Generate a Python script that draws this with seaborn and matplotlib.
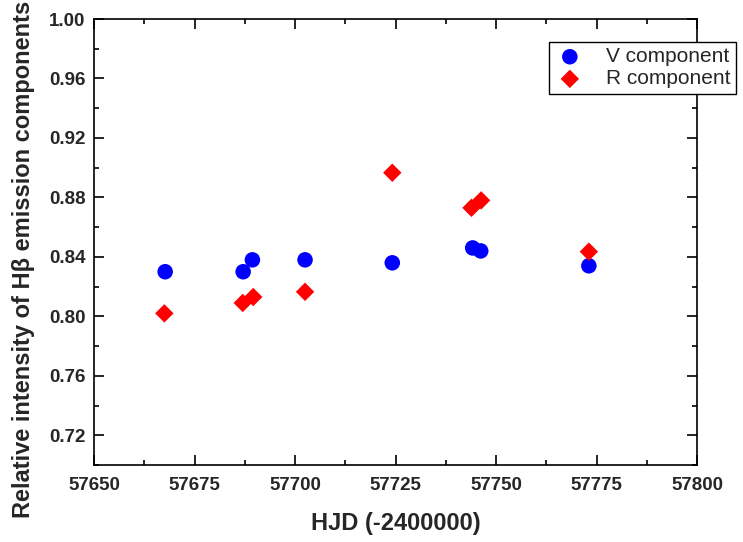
import matplotlib
matplotlib.use("Agg")
import matplotlib.pyplot as plt
from matplotlib.ticker import MultipleLocator
import seaborn as sns
import pandas as pd

# Data
v_hjd = [57667.7, 57687.1, 57689.4, 57702.5, 57724.2, 57744.2, 57746.2, 57773.1]
v_int = [0.830, 0.830, 0.838, 0.838, 0.836, 0.846, 0.844, 0.834]
r_hjd = [57667.5, 57687.0, 57689.6, 57702.5, 57724.2, 57743.9, 57746.3, 57773.1]
r_int = [0.802, 0.809, 0.813, 0.8165, 0.8966, 0.873, 0.878, 0.8435]
series_labels = ["V component", "R component"]
x_ticks = [57650, 57675, 57700, 57725, 57750, 57775, 57800]
y_ticks = [0.72, 0.76, 0.80, 0.84, 0.88, 0.92, 0.96, 1.00]

sns.set_style("ticks")
plt.rcParams["font.family"] = ["Liberation Sans", "DejaVu Sans"]

df_v = pd.DataFrame({"HJD": v_hjd, "I": v_int})
df_r = pd.DataFrame({"HJD": r_hjd, "I": r_int})

fig = plt.figure(figsize=(7.43, 5.42), dpi=100)
ax = fig.add_axes([94 / 743, 1 - 465 / 542, (697 - 94) / 743, (465 - 19) / 542])

sns.scatterplot(data=df_v, x="HJD", y="I", ax=ax, marker="o", color="blue",
                s=125, edgecolor="none", label=series_labels[0], zorder=3)
sns.scatterplot(data=df_r, x="HJD", y="I", ax=ax, marker="D", color="red",
                s=88, edgecolor="none", label=series_labels[1], zorder=3)

ax.set_xlim(57650, 57800)
ax.set_ylim(0.70, 1.00)
ax.set_xticks(x_ticks)
ax.set_yticks(y_ticks)
ax.set_xticklabels([str(t) for t in x_ticks])
ax.set_yticklabels([f"{t:.2f}" for t in y_ticks])
ax.xaxis.set_minor_locator(MultipleLocator(12.5))
ax.yaxis.set_minor_locator(MultipleLocator(0.02))

for sp in ax.spines.values():
    sp.set_visible(True)
    sp.set_linewidth(1.2)
    sp.set_color("black")

ax.tick_params(which="both", direction="in", top=True, right=True, color="black", width=1.2)
ax.tick_params(which="major", length=7, labelsize=13.5)
ax.tick_params(axis="x", which="major", pad=8.5)
ax.tick_params(axis="y", which="major", pad=6)
ax.tick_params(which="minor", length=3.5)
for lab in ax.get_xticklabels() + ax.get_yticklabels():
    lab.set_fontweight("bold")

ax.set_xlabel("HJD (-2400000)", fontsize=17, fontweight="bold", labelpad=13)
ax.set_ylabel("Relative intensity of H\u03b2 emission components", fontsize=17,
              fontweight="bold")
ax.yaxis.set_label_coords(-0.098, 0.46)

handles, labels = ax.get_legend_handles_labels()
leg = ax.legend(handles, labels, loc="upper right",
                bbox_to_anchor=(736 / 743, 1 - 42 / 542), bbox_transform=fig.transFigure,
                borderaxespad=0, fontsize=15, frameon=True, fancybox=False,
                handletextpad=1.0, borderpad=0.25, labelspacing=0.15, handlelength=1.5)
leg.get_frame().set_edgecolor("black")
leg.get_frame().set_linewidth(1.0)
leg.get_frame().set_alpha(1)

fig.savefig("out.png", dpi=100)
